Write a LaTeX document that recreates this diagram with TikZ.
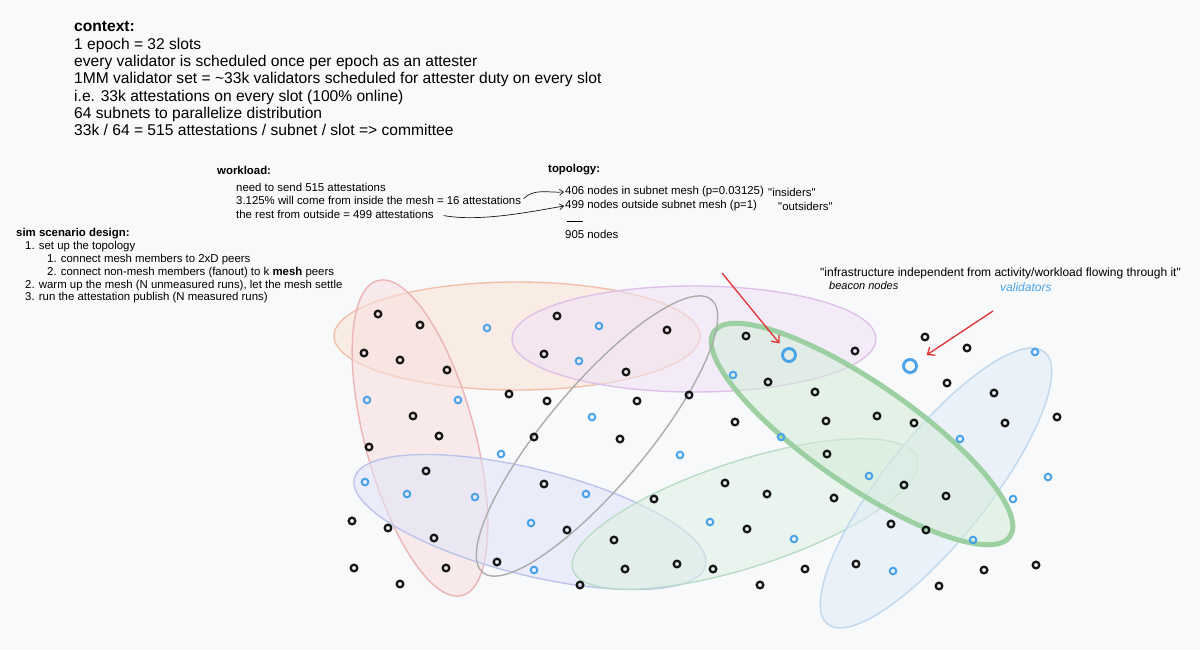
\documentclass[tikz,border=0pt]{standalone}
\usepackage{fontspec}
\setmainfont{Liberation Sans}
\usepackage{xcolor}
\usepackage{tikz}
\usetikzlibrary{arrows.meta}

\definecolor{paper}{RGB}{248,249,251}
\definecolor{ink}{RGB}{22,22,22}
\definecolor{nodeblue}{RGB}{74,163,232}
\definecolor{arrowred}{RGB}{224,49,49}
\definecolor{peachline}{RGB}{240,192,168}
\definecolor{peachfill}{RGB}{250,226,212}
\definecolor{pinkline}{RGB}{236,180,180}
\definecolor{pinkfill}{RGB}{248,222,222}
\definecolor{lilacline}{RGB}{222,192,232}
\definecolor{lilacfill}{RGB}{240,226,246}
\definecolor{periline}{RGB}{188,196,236}
\definecolor{perifill}{RGB}{224,228,248}
\definecolor{mintline}{RGB}{186,220,200}
\definecolor{mintfill}{RGB}{220,240,226}
\definecolor{greenline}{RGB}{156,208,162}
\definecolor{greenfill}{RGB}{212,236,216}
\definecolor{skyline}{RGB}{192,216,238}
\definecolor{skyfill}{RGB}{226,236,248}
\definecolor{greyline}{RGB}{172,172,172}

\begin{document}
\begin{tikzpicture}[x=1pt,y=-1pt,>={Straight Barb[length=4pt,width=6pt]},
  ctx/.style={align=left,inner sep=0pt,font=\fontsize{15.6}{17.3}\selectfont},
  small/.style={inner sep=1pt,font=\fontsize{11.4}{12.9}\selectfont},
  pale/.style={line width=1.4pt,fill opacity=0.55},
  pointer/.style={->,arrowred,line width=1.3pt,>={Straight Barb[length=6pt,width=10pt]}},
  beacon/.style={circle,draw=ink,line width=2.3pt,minimum size=6.6pt,inner sep=0pt},
  validator/.style={circle,draw=nodeblue,line width=2pt,minimum size=6.6pt,inner sep=0pt},
  bigvalidator/.style={validator,line width=2.9pt,minimum size=13pt}]
 \fill[paper] (0,0) rectangle (1200,649);
 % notes
 \node[ctx,anchor=north west] (context) at (74,21.5) {\textbf{context:}\\1 epoch = 32 slots\\every validator is scheduled once per epoch as an attester\\1MM validator set = \textasciitilde33k validators scheduled for attester duty on every slot\\i.e. 33k attestations on every slot (100\% online)\\64 subnets to parallelize distribution\\33k / 64 = 515 attestations / subnet / slot => committee};
 \node[small,anchor=west] (workload) at (216,170) {\textbf{workload:}};
 \node[small,anchor=west] (send) at (235,187) {need to send 515 attestations};
 \node[small,anchor=west] (inside) at (235,200) {3.125\% will come from inside the mesh = 16 attestations};
 \node[small,anchor=west] (rest) at (235,214) {the rest from outside = 499 attestations};
 \node[small,anchor=west] (topology) at (547,170) {\textbf{topology:}};
 \node[small,anchor=west] (insider) at (564,192) {406 nodes in subnet mesh (p=0.03125)};
 \node[small,anchor=west] (insidertag) at (767,192) {\textquotedbl insiders\textquotedbl};
 \node[small,anchor=west] (outsider) at (564,206) {499 nodes outside subnet mesh (p=1)};
 \node[small,anchor=west] (outsidertag) at (777,206) {\textquotedbl outsiders\textquotedbl};
 \node[small,anchor=west] (bar) at (566,221) {\rule{16pt}{0.8pt}};
 \node[small,anchor=west] (total) at (564,234) {905 nodes};
 \draw[->,ink,line width=0.7pt,shorten <=2pt] (inside.east) .. controls +(12,-12) and +(-15,1) .. (insider.west);
 \draw[->,ink,line width=0.7pt,shorten <=9pt] (rest.east) .. controls +(45,8) and +(-35,6) .. (outsider.west);
 \node[small,anchor=north west,align=left,inner sep=0pt] (sim) at (16,228) {\textbf{sim scenario design:}\\
  \hspace*{9pt}1. set up the topology\\
  \hspace*{31pt}1. connect mesh members to 2xD peers\\
  \hspace*{31pt}2. connect non-mesh members (fanout) to k \textbf{mesh} peers\\
  \hspace*{9pt}2. warm up the mesh (N unmeasured runs), let the mesh settle\\
  \hspace*{9pt}3. run the attestation publish (N measured runs)};
 \node[small,anchor=west,font=\fontsize{12}{14}\selectfont] (infra) at (819,273) {\textquotedbl infrastructure independent from activity/workload flowing through it\textquotedbl};
 \node[small,anchor=west,font=\fontsize{11}{13}\selectfont\itshape] (beaconlabel) at (828,286) {beacon nodes};
 \node[small,anchor=west,text=nodeblue,font=\fontsize{12}{14}\selectfont\itshape] (validatorlabel) at (999,287) {validators};
 % subnet groups
 \draw[pale,peachline,fill=peachfill] (517,336) ellipse (183pt and 54pt);
 \draw[pale,lilacline,fill=lilacfill] (694,339) ellipse (182pt and 53pt);
 \draw[pale,pinkline,fill=pinkfill,rotate around={105:(420,438)}] (420,438) ellipse (163pt and 55pt);
 \draw[pale,periline,fill=perifill,rotate around={-14:(530,522)}] (530,522) ellipse (181pt and 53pt);
 \draw[pale,mintline,fill=mintfill,rotate around={18:(745,514)}] (745,514) ellipse (181pt and 53pt);
 \draw[pale,skyline,fill=skyfill,rotate around={51.5:(936,488)}] (936,488) ellipse (174pt and 52pt);
 \draw[greenline,line width=5pt,fill=greenfill,fill opacity=0.55,rotate around={-34.7:(862,434)}] (862,434) ellipse (180pt and 51pt);
 \draw[greyline,line width=1.4pt,rotate around={50:(597,436)}] (597,436) ellipse (178pt and 50pt);
 % beacon nodes
 \node[beacon] (bn1) at (378,314) {};
 \node[beacon] (bn2) at (420,325) {};
 \node[beacon] (bn3) at (557,316) {};
 \node[beacon] (bn4) at (667,330) {};
 \node[beacon] (bn5) at (364,353) {};
 \node[beacon] (bn6) at (400,360) {};
 \node[beacon] (bn7) at (447,370) {};
 \node[beacon] (bn8) at (544,354) {};
 \node[beacon] (bn9) at (626,372) {};
 \node[beacon] (bn10) at (509,394) {};
 \node[beacon] (bn11) at (547,401) {};
 \node[beacon] (bn12) at (637,401) {};
 \node[beacon] (bn13) at (689,395) {};
 \node[beacon] (bn14) at (413,416) {};
 \node[beacon] (bn15) at (439,436) {};
 \node[beacon] (bn16) at (534,437) {};
 \node[beacon] (bn17) at (620,439) {};
 \node[beacon] (bn18) at (369,447) {};
 \node[beacon] (bn19) at (426,471) {};
 \node[beacon] (bn20) at (544,484) {};
 \node[beacon] (bn21) at (654,499) {};
 \node[beacon] (bn22) at (352,521) {};
 \node[beacon] (bn23) at (388,528) {};
 \node[beacon] (bn24) at (434,538) {};
 \node[beacon] (bn25) at (567,530) {};
 \node[beacon] (bn26) at (614,540) {};
 \node[beacon] (bn27) at (354,568) {};
 \node[beacon] (bn28) at (446,568) {};
 \node[beacon] (bn29) at (497,562) {};
 \node[beacon] (bn30) at (625,569) {};
 \node[beacon] (bn31) at (677,564) {};
 \node[beacon] (bn32) at (400,584) {};
 \node[beacon] (bn33) at (580,585) {};
 \node[beacon] (bn34) at (746,336) {};
 \node[beacon] (bn35) at (855,351) {};
 \node[beacon] (bn36) at (925,337) {};
 \node[beacon] (bn37) at (967,348) {};
 \node[beacon] (bn38) at (768,382) {};
 \node[beacon] (bn39) at (815,392) {};
 \node[beacon] (bn40) at (947,383) {};
 \node[beacon] (bn41) at (994,393) {};
 \node[beacon] (bn42) at (735,422) {};
 \node[beacon] (bn43) at (826,421) {};
 \node[beacon] (bn44) at (877,416) {};
 \node[beacon] (bn45) at (914,423) {};
 \node[beacon] (bn46) at (1005,423) {};
 \node[beacon] (bn47) at (1057,417) {};
 \node[beacon] (bn48) at (827,454) {};
 \node[beacon] (bn49) at (725,483) {};
 \node[beacon] (bn50) at (767,494) {};
 \node[beacon] (bn51) at (834,498) {};
 \node[beacon] (bn52) at (904,485) {};
 \node[beacon] (bn53) at (946,496) {};
 \node[beacon] (bn54) at (747,529) {};
 \node[beacon] (bn55) at (891,524) {};
 \node[beacon] (bn56) at (926,530) {};
 \node[beacon] (bn57) at (713,569) {};
 \node[beacon] (bn58) at (805,569) {};
 \node[beacon] (bn59) at (856,564) {};
 \node[beacon] (bn60) at (984,570) {};
 \node[beacon] (bn61) at (1036,565) {};
 \node[beacon] (bn62) at (760,585) {};
 \node[beacon] (bn63) at (939,586) {};
 % validators
 \node[validator] (v1) at (487,328) {};
 \node[validator] (v2) at (599,326) {};
 \node[validator] (v3) at (579,361) {};
 \node[validator] (v4) at (367,400) {};
 \node[validator] (v5) at (458,400) {};
 \node[validator] (v6) at (592,417) {};
 \node[validator] (v7) at (501,454) {};
 \node[validator] (v8) at (680,455) {};
 \node[validator] (v9) at (365,482) {};
 \node[validator] (v10) at (407,494) {};
 \node[validator] (v11) at (475,497) {};
 \node[validator] (v12) at (586,494) {};
 \node[validator] (v13) at (531,523) {};
 \node[validator] (v14) at (534,570) {};
 \node[validator] (v15) at (710,522) {};
 \node[validator] (v16) at (733,375) {};
 \node[validator] (v17) at (1035,352) {};
 \node[validator] (v18) at (781,437) {};
 \node[validator] (v19) at (960,439) {};
 \node[validator] (v20) at (869,476) {};
 \node[validator] (v21) at (1013,499) {};
 \node[validator] (v22) at (1048,477) {};
 \node[validator] (v23) at (794,539) {};
 \node[validator] (v24) at (973,540) {};
 \node[validator] (v25) at (893,571) {};
 \node[bigvalidator] (bigbn) at (789,355) {};
 \node[bigvalidator] (bigval) at (910,366) {};
 % pointers
 \coordinate (bnpoint) at (722,273);
 \coordinate (valpoint) at (993,311);
 \draw[pointer,shorten >=7pt] (bnpoint) -- (bigbn);
 \draw[pointer,shorten >=12pt] (valpoint) -- (bigval);
\end{tikzpicture}
\end{document}
